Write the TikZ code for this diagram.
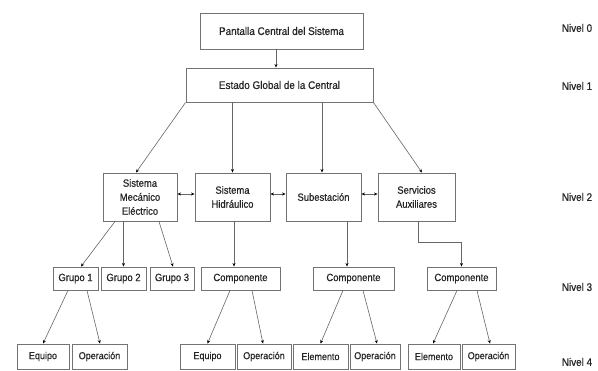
\documentclass[tikz,border=0pt]{standalone}
\usepackage{fontspec}
\setmainfont{Liberation Sans}[FakeStretch=0.9, FakeBold=0.6]
\usetikzlibrary{arrows.meta}
\tikzset{
  box/.style={draw=black!55, line width=0.9pt, inner sep=1pt, align=center, text=black!85},
  big/.style={box, font=\fontsize{11}{12}\selectfont},
  mid/.style={box, font=\fontsize{10.5}{14}\selectfont, minimum height=48},
  lv3/.style={box, font=\fontsize{10.5}{11}\selectfont, minimum height=23},
  lv4/.style={box, font=\fontsize{10}{11}\selectfont, minimum height=25},
  conn/.style={draw=black!60, line width=0.6pt, -{Stealth[length=3.5pt,width=3pt,color=black]}},
  dconn/.style={draw=black!60, line width=0.6pt, {Stealth[length=3.5pt,width=3pt,color=black]}-{Stealth[length=3.5pt,width=3pt,color=black]}},
  lvl/.style={font=\fontsize{11}{12}\selectfont, text=black!85}
}
\begin{document}
\begin{tikzpicture}[x=1pt,y=-1pt]
\useasboundingbox[fill=white] (0,0) rectangle (598,371);
% level 0 and 1
\node[big, minimum width=163, minimum height=36] (n0) at (281.5,31) {Pantalla Central del Sistema};
\node[big, minimum width=187, minimum height=34] (n1) at (279.5,85) {Estado Global de la Central};
% level 2
\node[mid, minimum width=74] (sm) at (140,197) {Sistema\\Mecánico\\Eléctrico};
\node[mid, minimum width=75] (hid) at (232.5,197) {Sistema\\Hidráulico};
\node[mid, minimum width=75] (sub) at (323.5,197) {Subestación};
\node[mid, minimum width=77] (aux) at (416.5,197) {Servicios\\Auxiliares};
% level 3
\node[lv3, minimum width=45] (g1) at (75.5,278.5) {Grupo 1};
\node[lv3, minimum width=45] (g2) at (123.5,278.5) {Grupo 2};
\node[lv3, minimum width=44] (g3) at (172,278.5) {Grupo 3};
\node[lv3, minimum width=79] (c1) at (240.5,278.5) {Componente};
\node[lv3, minimum width=81] (c2) at (353.5,278.5) {Componente};
\node[lv3, minimum width=69] (c3) at (461.5,278.5) {Componente};
% level 4
\node[lv4, minimum width=52] (e1) at (43,356.5) {Equipo};
\node[lv4, minimum width=55] (o1) at (99.5,356.5) {Operación};
\node[lv4, minimum width=55] (e2) at (207.5,356.5) {Equipo};
\node[lv4, minimum width=54] (o2) at (264,356.5) {Operación};
\node[lv4, minimum width=55] (el1) at (320.5,356.5) {Elemento};
\node[lv4, minimum width=50] (o3) at (375,356.5) {Operación};
\node[lv4, minimum width=52] (el2) at (434,356.5) {Elemento};
\node[lv4, minimum width=53] (o4) at (488.5,356.5) {Operación};
% level labels
\node[lvl] (l0) at (577,28) {Nivel 0};
\node[lvl] (l1) at (577,86) {Nivel 1};
\node[lvl] (l2) at (577,197) {Nivel 2};
\node[lvl] (l3) at (577,287) {Nivel 3};
\node[lvl] (l4) at (577,362) {Nivel 4};
% connectors
\draw[conn] ([xshift=-5.5]n0.south) -- ([xshift=-5.5]n0.south |- n1.north);
\draw[conn] (n1.south west) -- ([xshift=-4]sm.north);
\draw[conn] (hid.north |- n1.south) -- (hid.north);
\draw[conn] ([xshift=-1.5]sub.north |- n1.south) -- ([xshift=-1.5]sub.north);
\draw[conn] (n1.south east) -- ([xshift=5.5]aux.north);
\draw[dconn] ([yshift=3]sm.east) -- ([yshift=3]hid.west);
\draw[dconn] ([yshift=3]hid.east) -- ([yshift=3]sub.west);
\draw[dconn] ([yshift=3]sub.east) -- ([yshift=3]aux.west);
\draw[conn] ([xshift=-25]sm.south) -- ([xshift=5.5]g1.north);
\draw[conn] (g2.north |- sm.south) -- (g2.north);
\draw[conn] ([xshift=19]sm.south) -- ([xshift=1]g3.north);
\draw[conn] ([xshift=1.5]hid.south) -- ([xshift=1.5]hid.south |- c1.north);
\draw[conn] ([xshift=-6.5]c2.north |- sub.south) -- ([xshift=-6.5]c2.north);
\draw[conn] ([xshift=1.5]aux.south) -- ++(0,21) -| (c3.north);
\draw[conn] ([xshift=-7.5]g1.south) -- (e1.north);
\draw[conn] ([xshift=11.5]g1.south) -- ([xshift=0.5]o1.north);
\draw[conn] ([xshift=-10.5]c1.south) -- (e2.north);
\draw[conn] ([xshift=11.5]c1.south) -- ([xshift=-1]o2.north);
\draw[conn] ([xshift=-10.5]c2.south) -- (el1.north);
\draw[conn] ([xshift=9.5]c2.south) -- ([xshift=2]o3.north);
\draw[conn] ([xshift=-4.5]c3.south) -- ([xshift=-1]el2.north);
\draw[conn] ([xshift=15.5]c3.south) -- ([xshift=1.5]o4.north);
\end{tikzpicture}
\end{document}
